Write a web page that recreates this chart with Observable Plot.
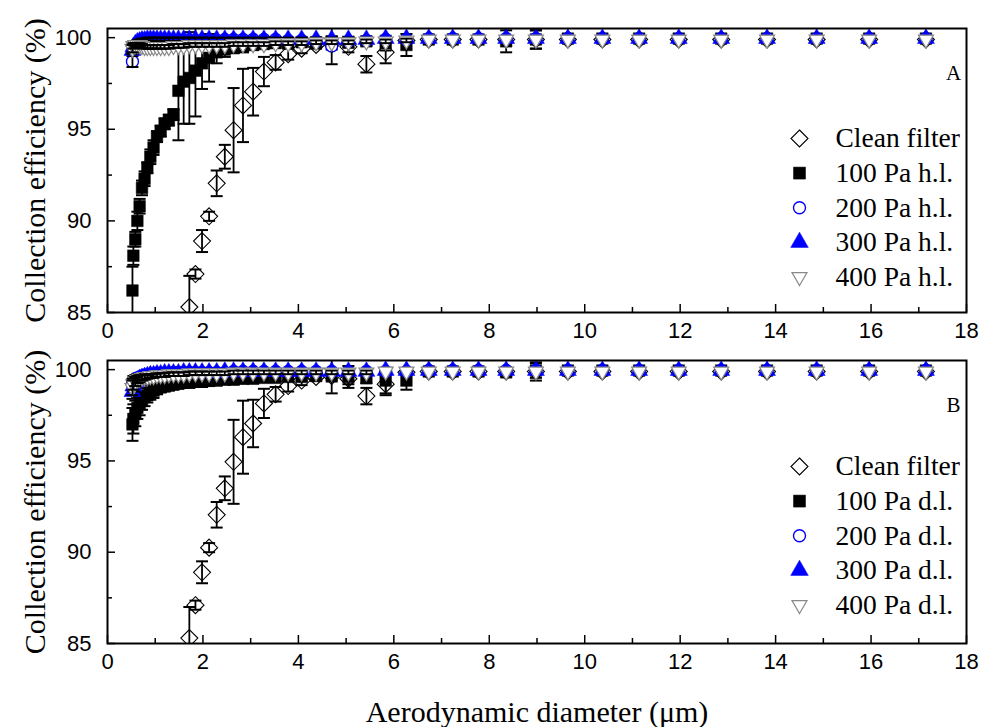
<!DOCTYPE html>
<html><head><meta charset="utf-8">
<script src="https://cdn.jsdelivr.net/npm/d3@7"></script>
<script src="https://cdn.jsdelivr.net/npm/@observablehq/plot@0.6"></script>
<style>
html,body{margin:0;padding:0;background:#fff;}
#chart{width:990px;height:727px;overflow:hidden;}
#chart svg{display:block;}
</style></head><body><div id="chart"></div>
<script>
// ---- data (aerodynamic diameter channels, µm) ----
const diameters = [0.523,0.542,0.583,0.626,0.673,0.723,0.777,0.835,0.898,0.965,1.037,1.114,1.197,1.286,1.382,1.486,1.596,1.715,1.843,1.981,2.129,2.288,2.458,2.642,2.839,3.051,3.278,3.523,3.786,4.068,4.371,4.698,5.048,5.425,5.829,6.264,6.732,7.234,7.774,8.354,8.977,9.647,10.37,11.14,11.97,12.86,13.82,14.86,15.96,17.15];

const cleanFilter = [null,null,null,null,null,null,null,null,null,null,null,null,null,null,null,null,null,85.3,87.1,88.9,90.25,92.05,93.5,94.95,96.3,97.05,98.15,98.65,99.1,99.4,99.6,99.65,99.5,98.55,99.2,99.85,99.9,99.9,99.9,99.9,99.9,99.9,99.9,99.9,99.9,99.9,99.9,99.9,99.9,99.9];
const cleanFilterErr = [0,0,0,0,0,0,0,0,0,0,0,0,0,0,0,0,0,1.7,0.25,0.6,0.25,0.7,0.65,2.3,2.0,1.3,0.8,0.4,0.3,0.25,0.2,0.3,0.3,0.45,0.6,0.1,0,0,0,0,0.5,0,0,0,0,0,0,0,0,0];

const hl100 = [86.2,88.1,89.0,90.0,90.8,91.8,92.3,92.9,93.5,94.0,94.6,94.9,95.3,95.5,95.8,97.1,97.6,97.8,98.2,98.6,98.9,99.2,99.35,99.45,99.5,99.6,99.65,99.7,99.7,99.75,99.75,99.8,99.75,99.8,99.7,99.6,99.9,99.9,99.9,99.8,99.9,99.95,99.95,99.95,99.95,99.95,99.95,99.95,99.95,99.95];
const hl100Err = [1.3,0.5,0.4,0.5,0.4,0.4,0.4,0.3,0.4,0.4,0.3,0.3,0.3,0.3,0.3,2.7,2.3,2.5,2.5,1.4,1.3,0.6,0.4,0.3,0.3,0.25,0.2,0.2,0.2,0.2,0.2,0.25,0.3,0.2,0.4,0.6,0,0,0,0.6,0.5,0,0,0,0,0,0,0,0,0];
const hl200 = [98.7,99.3,99.5,99.6,99.65,99.7,99.75,99.75,99.8,99.8,99.8,99.8,99.85,99.85,99.85,99.85,99.85,99.85,99.85,99.85,99.85,99.85,99.9,99.9,99.9,99.9,99.9,99.9,99.85,99.85,99.8,99.55,99.8,99.85,99.9,99.9,99.95,99.95,99.95,99.95,99.95,99.95,99.95,99.95,99.95,99.95,99.95,99.95,99.95,99.95];
const hl200Err = [0.3,0.2,0.15,0.1,0.1,0.1,0.1,0.1,0.1,0.1,0.1,0.1,0.1,0.1,0.1,0.1,0.1,0.1,0.1,0.1,0.1,0.1,0.1,0.1,0.1,0.1,0.1,0.1,0.1,0.1,0.15,1.0,0.15,0.1,0.1,0.1,0,0,0,0,0,0,0,0,0,0,0,0,0,0];
const hl300 = [99.3,99.5,99.65,99.75,99.8,99.85,99.85,99.9,99.9,99.9,99.9,99.9,99.9,99.9,99.9,99.9,99.9,99.9,99.9,99.9,99.9,99.9,99.9,99.9,99.9,99.9,99.9,99.9,99.9,99.9,99.9,99.9,99.9,99.9,99.95,99.95,99.95,99.95,99.95,99.95,99.95,99.95,99.95,99.95,99.95,99.95,99.95,99.95,99.95,99.95];
const hl300Err = [0.2,0.15,0.1,0.1,0.1,0.1,0.1,0.1,0.1,0.1,0.1,0.1,0.1,0.1,0.1,0.1,0.1,0.1,0.1,0.1,0.1,0.1,0.1,0.1,0.1,0.1,0.1,0.1,0.1,0.1,0.1,0.1,0.1,0.1,0,0,0,0,0,0,0,0,0,0,0,0,0,0,0,0];
const hl400 = [99.4,99.55,99.6,99.6,99.6,99.55,99.5,99.5,99.5,99.5,99.5,99.5,99.5,99.5,99.55,99.55,99.55,99.6,99.6,99.6,99.6,99.6,99.6,99.65,99.65,99.65,99.65,99.7,99.7,99.7,99.75,99.75,99.75,99.8,99.8,99.85,99.9,99.9,99.9,99.9,99.9,99.9,99.9,99.9,99.9,99.9,99.9,99.9,99.9,99.9];
const hl400Err = [0.2,0.15,0.1,0.1,0.1,0.1,0.1,0.1,0.1,0.1,0.1,0.1,0.1,0.1,0.1,0.1,0.1,0.1,0.1,0.1,0.1,0.1,0.1,0.1,0.1,0.1,0.1,0.1,0.1,0.1,0.1,0.1,0.1,0.1,0.1,0.1,0,0,0,0,0,0,0,0,0,0,0,0,0,0];

const dl100 = [97.0,97.3,97.6,97.9,98.1,98.3,98.5,98.6,98.75,98.85,98.95,99.05,99.1,99.15,99.2,99.25,99.3,99.3,99.35,99.35,99.4,99.4,99.45,99.45,99.5,99.5,99.55,99.55,99.6,99.6,99.65,99.7,99.6,99.55,99.4,99.4,99.9,99.9,99.9,99.85,99.95,99.95,99.95,99.95,99.95,99.95,99.95,99.95,99.95,99.95];
const dl100Err = [0.9,0.8,0.7,0.6,0.6,0.5,0.5,0.4,0.4,0.4,0.3,0.3,0.3,0.3,0.3,0.3,0.3,0.3,0.3,0.3,0.3,0.25,0.25,0.25,0.25,0.2,0.2,0.2,0.2,0.2,0.2,1.0,0.6,0.3,0.7,0.5,0,0,0,0.2,0.4,0,0,0,0,0,0,0,0,0];
const dl200 = [99.2,99.4,99.5,99.55,99.6,99.65,99.7,99.7,99.75,99.75,99.8,99.8,99.8,99.8,99.85,99.85,99.85,99.85,99.85,99.85,99.85,99.85,99.85,99.9,99.9,99.9,99.9,99.9,99.9,99.9,99.9,99.9,99.9,99.9,99.9,99.9,99.95,99.95,99.95,99.95,99.95,99.95,99.95,99.95,99.95,99.95,99.95,99.95,99.95,99.95];
const dl200Err = [0.3,0.25,0.2,0.2,0.15,0.15,0.15,0.1,0.1,0.1,0.1,0.1,0.1,0.1,0.1,0.1,0.1,0.1,0.1,0.1,0.1,0.1,0.1,0.1,0.1,0.1,0.1,0.1,0.1,0.1,0.1,0.1,0.1,0.1,0.1,0.1,0,0,0,0,0,0,0,0,0,0,0,0,0,0];
const dl300 = [98.8,99.1,99.3,99.4,99.5,99.55,99.6,99.65,99.7,99.7,99.75,99.75,99.8,99.8,99.8,99.8,99.85,99.85,99.85,99.85,99.85,99.85,99.9,99.9,99.9,99.9,99.9,99.9,99.9,99.9,99.9,99.9,99.9,99.9,99.95,99.95,99.95,99.95,99.95,99.95,99.95,99.95,99.95,99.95,99.95,99.95,99.95,99.95,99.95,99.95];
const dl300Err = [0.4,0.3,0.25,0.2,0.2,0.15,0.15,0.1,0.1,0.1,0.1,0.1,0.1,0.1,0.1,0.1,0.1,0.1,0.1,0.1,0.1,0.1,0.1,0.1,0.1,0.1,0.1,0.1,0.1,0.1,0.1,0.1,0.1,0.1,0,0,0,0,0,0,0,0,0,0,0,0,0,0,0,0];
const dl400 = [99.0,99.2,99.35,99.45,99.5,99.55,99.6,99.6,99.65,99.65,99.7,99.7,99.7,99.75,99.75,99.75,99.75,99.8,99.8,99.8,99.8,99.8,99.8,99.85,99.85,99.85,99.85,99.85,99.85,99.85,99.85,99.85,99.85,99.85,99.9,99.9,99.9,99.9,99.9,99.9,99.9,99.9,99.9,99.9,99.9,99.9,99.9,99.9,99.9,99.9];
const dl400Err = [0.4,0.3,0.25,0.2,0.2,0.15,0.15,0.1,0.1,0.1,0.1,0.1,0.1,0.1,0.1,0.1,0.1,0.1,0.1,0.1,0.1,0.1,0.1,0.1,0.1,0.1,0.1,0.1,0.1,0.1,0.1,0.1,0.1,0.1,0,0,0,0,0,0,0,0,0,0,0,0,0,0,0,0];

const legendA = ["Clean filter","100 Pa h.l.","200 Pa h.l.","300 Pa h.l.","400 Pa h.l."];
const legendB = ["Clean filter","100 Pa d.l.","200 Pa d.l.","300 Pa d.l.","400 Pa d.l."];
const xTicksMajor = [0,2,4,6,8,10,12,14,16,18];
const xTicksMinor = [1,3,5,7,9,11,13,15,17];
const yTicksMajor = [85,90,95,100];
const yTicksMinor = [87.5,92.5,97.5];
const xTitle = "Aerodynamic diameter (\u03bcm)";
const yTitle = "Collection efficiency (%)";

// ---- symbols (size = pi*r^2; r = half width) ----
const R = s => Math.sqrt(s / Math.PI);
const diamondSym = {draw(c, s){const r = R(s); c.moveTo(0,-r); c.lineTo(r,0); c.lineTo(0,r); c.lineTo(-r,0); c.closePath();}};
const squareSym = {draw(c, s){const r = R(s); c.moveTo(-r,-r); c.lineTo(r,-r); c.lineTo(r,r); c.lineTo(-r,r); c.closePath();}};
const triUpSym = {draw(c, s){const r = R(s), h = r*Math.sqrt(3); c.moveTo(0,-2*h/3); c.lineTo(r,h/3); c.lineTo(-r,h/3); c.closePath();}};
const triDownSym = {draw(c, s){const r = R(s), h = r*Math.sqrt(3); c.moveTo(0,2*h/3); c.lineTo(r,-h/3); c.lineTo(-r,-h/3); c.closePath();}};
const capSym = {draw(c, s){const r = R(s); c.moveTo(-r,0); c.lineTo(r,0);}};

const styles = [
  {symbol: diamondSym, r: 8.5, fill: "white", stroke: "black", strokeWidth: 1.1},
  {symbol: squareSym, r: 5.8, fill: "black", stroke: "black", strokeWidth: 0.5},
  {symbol: "circle", r: 6, fill: "white", stroke: "#0000ff", strokeWidth: 1.4},
  {symbol: triUpSym, r: 8.5, fill: "#0000ff", stroke: "#0000ff", strokeWidth: 0.5},
  {symbol: triDownSym, r: 7.5, fill: "white", stroke: "#888888", strokeWidth: 1.2}
];

const serif = "'Liberation Serif', 'Times New Roman', serif";
const sans = "'Liberation Sans', Arial, sans-serif";

function rows(vals, errs) {
  return diameters.map((d, i) => ({d, v: vals[i], e: errs[i]})).filter(r => r.v != null);
}

function panel({height, marginTop, marginBottom, series, legend, letter, legendTop, withXTitle}) {
  const marks = [];
  series.forEach(([v, e], k) => {
    const rs = rows(v, e);
    const errRows = rs.filter(r => r.e > 0);
    marks.push(Plot.dot(rs, {x: "d", y: "v", ...styles[k], clip: true}));
    marks.push(Plot.ruleX(errRows, {x: "d", y1: r => r.v - r.e, y2: r => r.v + r.e, stroke: "black", strokeWidth: 1.8, clip: true}));
    marks.push(Plot.dot(errRows, {x: "d", y: r => r.v - r.e, symbol: capSym, r: 6, stroke: "black", strokeWidth: 2, fill: "none", clip: true}));
    marks.push(Plot.dot(errRows, {x: "d", y: r => r.v + r.e, symbol: capSym, r: 6, stroke: "black", strokeWidth: 2, fill: "none", clip: true}));
  });
  // axes
  marks.push(Plot.axisX(xTicksMajor, {anchor: "bottom", tickSize: -8, tickPadding: 18, fontSize: 22, fontFamily: sans, strokeWidth: 1.5, label: null, tickFormat: d => String(d)}));
  marks.push(Plot.axisX(xTicksMinor, {anchor: "bottom", tickSize: -5, tickPadding: 0, strokeWidth: 1.5, label: null, tickFormat: () => ""}));
  marks.push(Plot.axisY(yTicksMajor, {anchor: "left", tickSize: -8, tickPadding: 24, fontSize: 22, fontFamily: sans, strokeWidth: 1.5, label: null, tickFormat: d => String(d)}));
  marks.push(Plot.axisY(yTicksMinor, {anchor: "left", tickSize: -5, tickPadding: 0, strokeWidth: 1.5, label: null, tickFormat: () => ""}));
  marks.push(Plot.frame({stroke: "black", strokeWidth: 2}));
  // titles
  marks.push(Plot.text([yTitle], {frameAnchor: "left", dx: -72, rotate: -90, textAnchor: "middle", lineAnchor: "middle", fontSize: 30, fontFamily: serif, fill: "black"}));
  if (withXTitle) marks.push(Plot.text([xTitle], {frameAnchor: "bottom", dy: 69, textAnchor: "middle", lineAnchor: "middle", fontSize: 30, fontFamily: serif, fill: "black"}));
  marks.push(Plot.text([letter], {frameAnchor: "top-right", dx: -13, dy: 45, textAnchor: "middle", lineAnchor: "middle", fontSize: 21, fontFamily: serif, fill: "black"}));
  // legend
  legend.forEach((lab, k) => {
    const st = styles[k];
    const dy = legendTop + k * 34.6;
    const r = [8.5, 6, 6, 8.8, 7.5][k];
    marks.push(Plot.dot([lab], {frameAnchor: "top-left", dx: 692, dy, symbol: st.symbol, r, fill: st.fill, stroke: st.stroke, strokeWidth: st.strokeWidth}));
    marks.push(Plot.text([lab], {frameAnchor: "top-left", dx: 728, dy, textAnchor: "start", lineAnchor: "middle", fontSize: 27.5, fontFamily: serif, fill: "black"}));
  });
  return Plot.plot({
    width: 990, height, marginLeft: 107, marginRight: 24, marginTop, marginBottom,
    x: {domain: [0, 18]},
    y: {domain: [85, 100.5]},
    style: {background: "white", color: "black", overflow: "visible"},
    marks
  });
}

const chart = document.getElementById("chart");
chart.appendChild(panel({
  height: 345, marginTop: 28, marginBottom: 33,
  series: [[cleanFilter, cleanFilterErr], [hl100, hl100Err], [hl200, hl200Err], [hl300, hl300Err], [hl400, hl400Err]],
  legend: legendA, letter: "A", legendTop: 110, withXTitle: false
}));
chart.appendChild(panel({
  height: 382, marginTop: 15, marginBottom: 84,
  series: [[cleanFilter, cleanFilterErr], [dl100, dl100Err], [dl200, dl200Err], [dl300, dl300Err], [dl400, dl400Err]],
  legend: legendB, letter: "B", legendTop: 106, withXTitle: true
}));
</script></body></html>
